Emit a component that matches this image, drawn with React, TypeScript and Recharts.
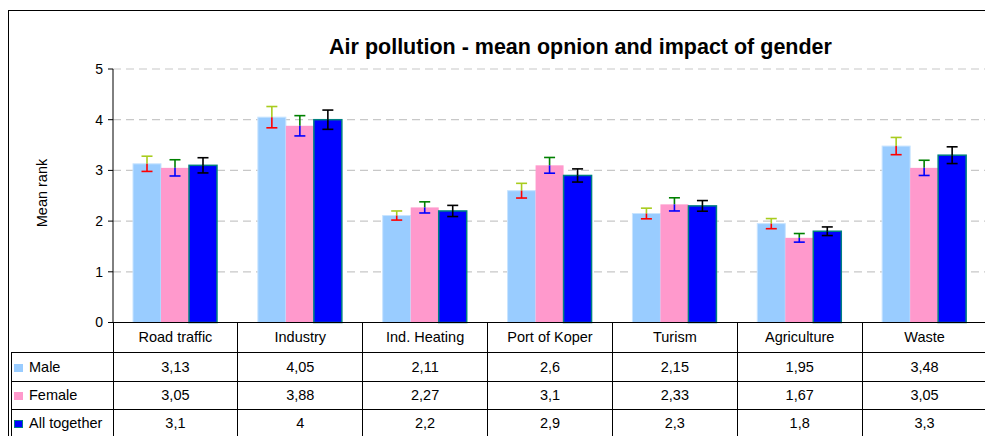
import React from 'react';
import { BarChart, Bar, XAxis, YAxis, CartesianGrid } from 'recharts';

const categories = ['Road traffic', 'Industry', 'Ind. Heating', 'Port of Koper', 'Turism', 'Agriculture', 'Waste'];
const maleValues = [3.13, 4.05, 2.11, 2.6, 2.15, 1.95, 3.48];
const femaleValues = [3.05, 3.88, 2.27, 3.1, 2.33, 1.67, 3.05];
const allValues = [3.1, 4, 2.2, 2.9, 2.3, 1.8, 3.3];
const maleErrors = [0.15, 0.21, 0.09, 0.145, 0.105, 0.1, 0.17];
const femaleErrors = [0.16, 0.2, 0.11, 0.155, 0.13, 0.085, 0.15];
const allErrors = [0.15, 0.19, 0.11, 0.13, 0.105, 0.085, 0.165];
const maleLabels = ['3,13', '4,05', '2,11', '2,6', '2,15', '1,95', '3,48'];
const femaleLabels = ['3,05', '3,88', '2,27', '3,1', '2,33', '1,67', '3,05'];
const allLabels = ['3,1', '4', '2,2', '2,9', '2,3', '1,8', '3,3'];
const yTicks = [0, 1, 2, 3, 4, 5];
const seriesNames = ['Male', 'Female', 'All together'];

const data = categories.map((c, i) => ({
  name: c,
  male: maleValues[i],
  female: femaleValues[i],
  all: allValues[i],
  maleErr: maleErrors[i],
  femaleErr: femaleErrors[i],
  allErr: allErrors[i],
}));

const FONT = '"Liberation Sans", Arial, sans-serif';

const makeShape = (fill: string, stroke: string, strokeW: number, upColor: string, downColor: string, errKey: string) =>
  (props: any) => {
    const { x, y, width, height, payload, value } = props;
    const v = Array.isArray(value) ? value[1] - value[0] : value;
    const ppu = v ? height / v : 0;
    const err = payload[errKey];
    const cx = x + width / 2;
    const yTop = y - err * ppu;
    const yBot = y + err * ppu;
    const cap = 5.5;
    const sw = 1.6;
    return (
      <g>
        <rect x={x} y={y} width={width} height={height} fill={fill} stroke={stroke} strokeWidth={strokeW} />
        <line x1={cx} x2={cx} y1={yTop} y2={y} stroke={upColor} strokeWidth={sw} />
        <line x1={cx - cap} x2={cx + cap} y1={yTop} y2={yTop} stroke={upColor} strokeWidth={sw} />
        <line x1={cx} x2={cx} y1={y} y2={yBot} stroke={downColor} strokeWidth={sw} />
        <line x1={cx - cap} x2={cx + cap} y1={yBot} y2={yBot} stroke={downColor} strokeWidth={sw} />
      </g>
    );
  };

const maleShape = makeShape('#99CCFF', '#C8E4FF', 1, '#A8CC1E', '#FF0000', 'maleErr');
const femaleShape = makeShape('#FF99CC', '#FF99CC', 0, '#008000', '#0000FF', 'femaleErr');
const allShape = makeShape('#0000FF', '#008080', 1.5, '#000000', '#000000', 'allErr');

// layout (wrapper coordinates = page - 8)
const plotLeft = 105;
const plotRight = 979;
const colW = (plotRight - plotLeft) / categories.length;
const rowEdges = [314.5, 344, 373, 401, 429];
const swatches = [
  { fill: '#99CCFF', border: '#99CCFF' },
  { fill: '#FF99CC', border: '#FF99CC' },
  { fill: '#0000FF', border: '#008080' },
];
const rowLabels = [maleLabels, femaleLabels, allLabels];

export default function App() {
  const lines: React.ReactNode[] = [];
  // vertical lines
  for (let i = 0; i <= categories.length; i++) {
    lines.push(
      <div key={'v' + i} style={{ position: 'absolute', left: plotLeft + i * colW - 0.5, top: rowEdges[0], width: 1, height: rowEdges[4] - rowEdges[0], background: '#000' }} />
    );
  }
  lines.push(
    <div key="vleft" style={{ position: 'absolute', left: 3, top: rowEdges[1], width: 1, height: rowEdges[4] - rowEdges[1], background: '#000' }} />
  );
  for (let r = 1; r <= 4; r++) {
    lines.push(
      <div key={'h' + r} style={{ position: 'absolute', left: 3, top: rowEdges[r] - 0.5, width: plotRight - 3, height: 1, background: '#000' }} />
    );
  }

  return (
    <div style={{ position: 'relative', width: 985, height: 428, fontFamily: FONT, color: '#000' }}>
      <style>{'html,body{overflow:hidden}'}</style>
      <div style={{ position: 'absolute', left: 0, top: 2, width: 990, height: 440, borderLeft: '1.5px solid #000', borderTop: '1.5px solid #000', boxSizing: 'border-box' }} />
      <div style={{ position: 'absolute', left: 572.5, top: 28.8, transform: 'translateX(-50%)', fontSize: 21.5, lineHeight: 1, fontWeight: 'bold', whiteSpace: 'nowrap' }}>
        Air pollution - mean opnion and impact of gender
      </div>
      <div style={{ position: 'absolute', left: 34, top: 185, transform: 'translate(-50%, -50%) rotate(-90deg)', fontSize: 14.5, lineHeight: 1, whiteSpace: 'nowrap' }}>
        Mean rank
      </div>
      <div style={{ position: 'absolute', left: 0, top: 0 }}>
        <BarChart width={985} height={330} data={data} margin={{ top: 61, right: 6, left: 45, bottom: 14.5 }} barSize={28} barGap={0}>
          <CartesianGrid vertical={false} stroke="#C8C8C8" strokeDasharray="8 5" strokeWidth={1.2} />
          <XAxis dataKey="name" tick={false} tickLine={false} axisLine={{ stroke: '#000', strokeWidth: 1 }} height={1} />
          <YAxis
            width={60}
            domain={[0, 5]}
            ticks={yTicks}
            interval={0}
            tickSize={5}
            tickMargin={5}
            axisLine={{ stroke: '#000', strokeWidth: 1 }}
            tickLine={{ stroke: '#000' }}
            tick={{ fill: '#000', fontSize: 14, fontFamily: FONT }}
          />
          <Bar dataKey="male" isAnimationActive={false} shape={maleShape} />
          <Bar dataKey="female" isAnimationActive={false} shape={femaleShape} />
          <Bar dataKey="all" isAnimationActive={false} shape={allShape} />
        </BarChart>
      </div>
      {lines}
      {categories.map((c, i) => (
        <div key={'c' + i} style={{ position: 'absolute', left: plotLeft + i * colW, top: rowEdges[0], width: colW, height: rowEdges[1] - rowEdges[0], display: 'flex', alignItems: 'center', justifyContent: 'center', fontSize: 14.5, whiteSpace: 'nowrap' }}>
          {c}
        </div>
      ))}
      {seriesNames.map((s, r) => (
        <React.Fragment key={'r' + r}>
          <div style={{ position: 'absolute', left: 6, top: rowEdges[r + 1], height: rowEdges[r + 2] - rowEdges[r + 1], display: 'flex', alignItems: 'center', fontSize: 14.5, whiteSpace: 'nowrap' }}>
            <span style={{ display: 'inline-block', width: 9, height: 8, boxSizing: 'border-box', background: swatches[r].fill, border: '1px solid ' + swatches[r].border, marginRight: 6, marginTop: 2 }} />
            {s}
          </div>
          {rowLabels[r].map((v, i) => (
            <div key={'t' + r + '-' + i} style={{ position: 'absolute', left: plotLeft + i * colW, top: rowEdges[r + 1], width: colW, height: rowEdges[r + 2] - rowEdges[r + 1], display: 'flex', alignItems: 'center', justifyContent: 'center', fontSize: 14.5 }}>
              {v}
            </div>
          ))}
        </React.Fragment>
      ))}
    </div>
  );
}
